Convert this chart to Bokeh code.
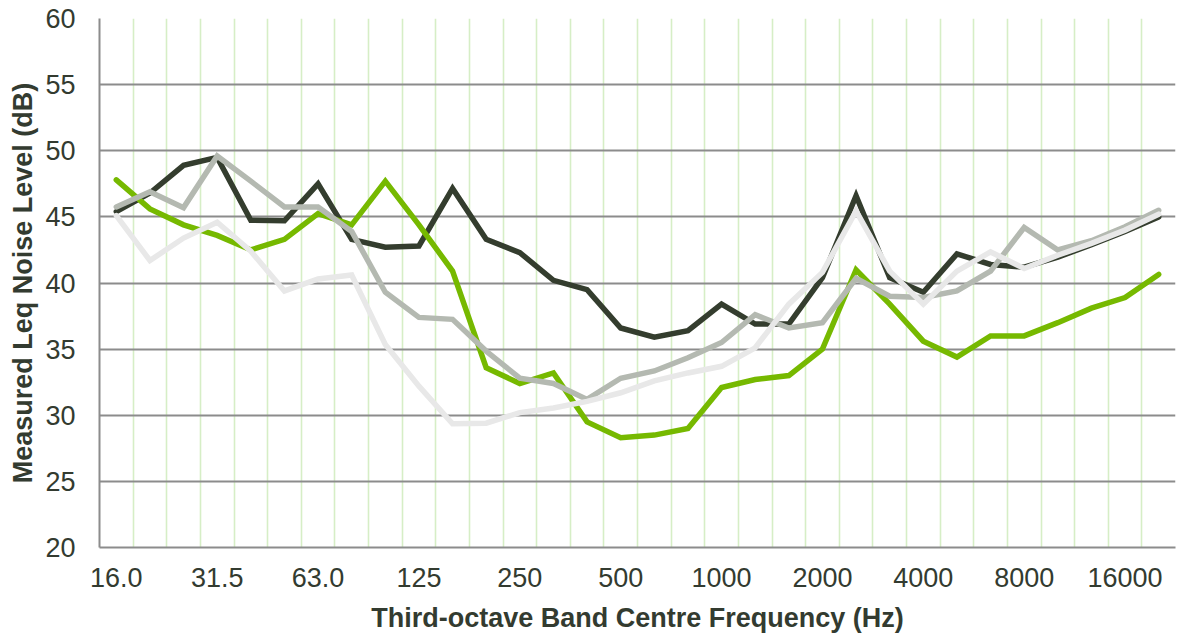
from bokeh.plotting import figure
from bokeh.models import FixedTicker, Range1d
from bokeh.embed import file_html
from bokeh.resources import INLINE

bands = ["16", "20", "25", "31.5", "40", "50", "63", "80", "100", "125", "160", "200",
         "250", "315", "400", "500", "630", "800", "1000", "1250", "1600", "2000",
         "2500", "3150", "4000", "5000", "6300", "8000", "10000", "12500", "16000", "20000"]

tick_labels = {0: "16.0", 3: "31.5", 6: "63.0", 9: "125", 12: "250", 15: "500",
               18: "1000", 21: "2000", 24: "4000", 27: "8000", 30: "16000"}

series_dark = [45.4, 46.8, 48.9, 49.5, 44.75, 44.7, 47.5, 43.3, 42.7, 42.8, 47.15, 43.3,
               42.3, 40.2, 39.5, 36.6, 35.9, 36.4, 38.4, 36.9, 36.9, 40.4, 46.6, 40.4,
               39.3, 42.2, 41.4, 41.2, 41.95, 42.9, 43.9, 45.0]
series_green = [47.8, 45.6, 44.4, 43.6, 42.5, 43.3, 45.25, 44.4, 47.7, 44.4, 40.9, 33.6,
                32.4, 33.2, 29.5, 28.3, 28.5, 29.0, 32.1, 32.7, 33.0, 35.0, 41.0, 38.4,
                35.6, 34.4, 36.0, 36.0, 37.0, 38.1, 38.9, 40.65]
series_gray = [45.75, 46.9, 45.7, 49.6, 47.7, 45.75, 45.75, 43.9, 39.3, 37.4, 37.25, 34.85,
               32.8, 32.4, 31.2, 32.8, 33.35, 34.35, 35.5, 37.6, 36.6, 37.0, 40.35, 39.0,
               38.9, 39.4, 40.9, 44.2, 42.5, 43.2, 44.25, 45.5]
series_light = [45.1, 41.7, 43.4, 44.6, 42.4, 39.4, 40.3, 40.6, 35.35, 32.2, 29.35, 29.4,
                30.2, 30.55, 31.05, 31.7, 32.6, 33.2, 33.7, 35.1, 38.4, 40.8, 45.45, 40.9,
                38.4, 40.9, 42.35, 41.1, 42.1, 43.0, 44.0, 45.2]

x = list(range(len(bands)))

FONT = "Liberation Sans"
TEXT_COLOR = "#333b30"

p = figure(width=1177, height=635, output_backend="svg", toolbar_location=None,
           x_range=Range1d(-0.5, len(bands) - 0.5), y_range=Range1d(20, 60),
           min_border_left=99, min_border_right=2, min_border_top=18, min_border_bottom=88)
p.outline_line_color = None
p.background_fill_color = "white"
p.border_fill_color = "white"

# grids
p.xgrid.ticker = FixedTicker(ticks=[i + 0.5 for i in range(len(bands))])
p.xgrid.grid_line_color = "#d6eec6"
p.xgrid.grid_line_width = 1.6
p.ygrid.ticker = FixedTicker(ticks=list(range(20, 61, 5)))
p.ygrid.grid_line_color = "#8c8c8c"
p.ygrid.grid_line_width = 1.8

# axes
p.xaxis.ticker = FixedTicker(ticks=list(tick_labels.keys()))
p.xaxis.major_label_overrides = tick_labels
p.yaxis.ticker = FixedTicker(ticks=list(range(20, 61, 5)))
for ax in (p.xaxis[0], p.yaxis[0]):
    ax.axis_line_color = "#8c8c8c"
    ax.axis_line_width = 2
    ax.major_tick_line_color = None
    ax.minor_tick_line_color = None
    ax.major_label_text_font = FONT
    ax.major_label_text_font_size = "27px"
    ax.major_label_text_color = TEXT_COLOR
    ax.axis_label_text_font = FONT
    ax.axis_label_text_font_size = "27px"
    ax.axis_label_text_font_style = "bold"
    ax.axis_label_text_color = TEXT_COLOR

p.xaxis.axis_label = "Third-octave Band Centre Frequency (Hz)"
p.yaxis.axis_label = "Measured Leq Noise Level (dB)"
p.xaxis.major_label_standoff = 14
p.xaxis.axis_label_standoff = 13
p.yaxis.major_label_standoff = 18
p.yaxis.axis_label_standoff = 4

line_kw = dict(line_width=5.5, line_join="miter", line_cap="round")
p.line(x, series_dark, line_color="#343d2e", **line_kw)
p.line(x, series_green, line_color="#76b900", **line_kw)
p.line(x, series_gray, line_color="#b4b9b1", **line_kw)
p.line(x, series_light, line_color="#e8e8e8", **line_kw)

open("out.html", "w").write(file_html(p, INLINE))
